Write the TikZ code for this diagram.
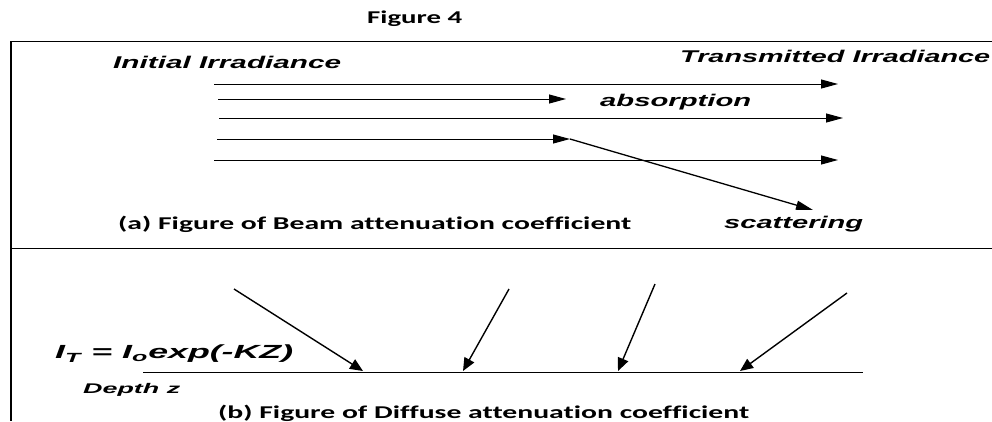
\documentclass[tikz,border=0pt]{standalone}
\usepackage{fontspec}
\usepackage{graphicx}
\usetikzlibrary{arrows.meta}
\newfontfamily\arialfont{Liberation Sans}
\newfontfamily\capfont{Carlito}[Ligatures=NoCommon]
\newcommand{\widen}[2]{\resizebox{#1pt}{\height}{#2}}

\begin{document}
\begin{tikzpicture}[x=1pt,y=-1pt,
                ray/.style={-{Triangle[length=17pt,width=9pt]},line width=1pt},
                fall/.style={-{Triangle[length=13pt,width=11pt]},line width=1.4pt},
                lbl/.style={inner sep=0pt,anchor=west,font=\arialfont\bfseries\itshape\fontsize{17}{19}\selectfont},
                captext/.style={inner sep=0pt,anchor=west,font=\capfont\bfseries\fontsize{18}{20}\selectfont}]
                \useasboundingbox (0,0) rectangle (992,421);

                \draw[line width=1pt] (10,41) -- (992,41);
                \draw[line width=1pt] (10,248) -- (992,248);
                \draw[line width=1.2pt] (11,41) -- (11,421);

                \node (fig) at (367,19) [captext] {\widen{95}{Figure 4}};
                \node (init) at (113,62) [lbl] {\widen{228}{Initial Irradiance}};
                \node (trans) at (680,56) [lbl] {\widen{310}{Transmitted Irradiance}};
                \node (abs) at (600,102) [lbl] {\widen{151}{absorption}};
                \node (scat) at (724,224) [lbl] {\widen{139}{scattering}};
                \node (capa) at (118,224) [captext] {\widen{513}{(a) Figure of Beam attenuation coefficient}};

                \coordinate (s1) at (214,84);
                \coordinate (e1) at (838,84);
                \coordinate (s2) at (218,99);
                \coordinate (e2) at (566,99);
                \coordinate (s3) at (219,118);
                \coordinate (e3) at (843,118);
                \coordinate (s4) at (217,139);
                \coordinate (e4) at (570,139);
                \coordinate (s5) at (214,160);
                \coordinate (e5) at (838,160);
                \coordinate (sc) at (813,210);

                \draw[ray] (s1) -- (e1);
                \draw[ray] (s2) -- (e2);
                \draw[ray] (s3) -- (e3);
                \draw[ray] (s4) -- (e4);
                \draw[ray] (s5) -- (e5);
                \draw[ray,line width=1.3pt] (e4) -- (sc);

                \node (law) at (55,354) [lbl,font=\arialfont\bfseries\itshape\fontsize{19}{21}\selectfont] {\widen{238}{I\textsubscript{T} = I\textsubscript{o}exp(-KZ)}};
                \node (depth) at (83,390) [lbl,font=\arialfont\bfseries\itshape\fontsize{14}{16}\selectfont] {\widen{97}{Depth z}};
                \node (capb) at (218,413) [captext] {\widen{531}{(b) Figure of Diffuse attenuation coefficient}};

                \coordinate (bl) at (143,372);
                \coordinate (br) at (863,372);
                \draw[line width=1pt] (bl) -- (br);

                \coordinate (a1) at (234,289);
                \coordinate (b1) at (363,371);
                \coordinate (a2) at (509,289);
                \coordinate (b2) at (463,371);
                \coordinate (a3) at (655,284);
                \coordinate (b3) at (618,371);
                \coordinate (a4) at (847,293);
                \coordinate (b4) at (740,371);

                \draw[fall] (a1) -- (b1);
                \draw[fall] (a2) -- (b2);
                \draw[fall] (a3) -- (b3);
                \draw[fall] (a4) -- (b4);
            \end{tikzpicture}
\end{document}
